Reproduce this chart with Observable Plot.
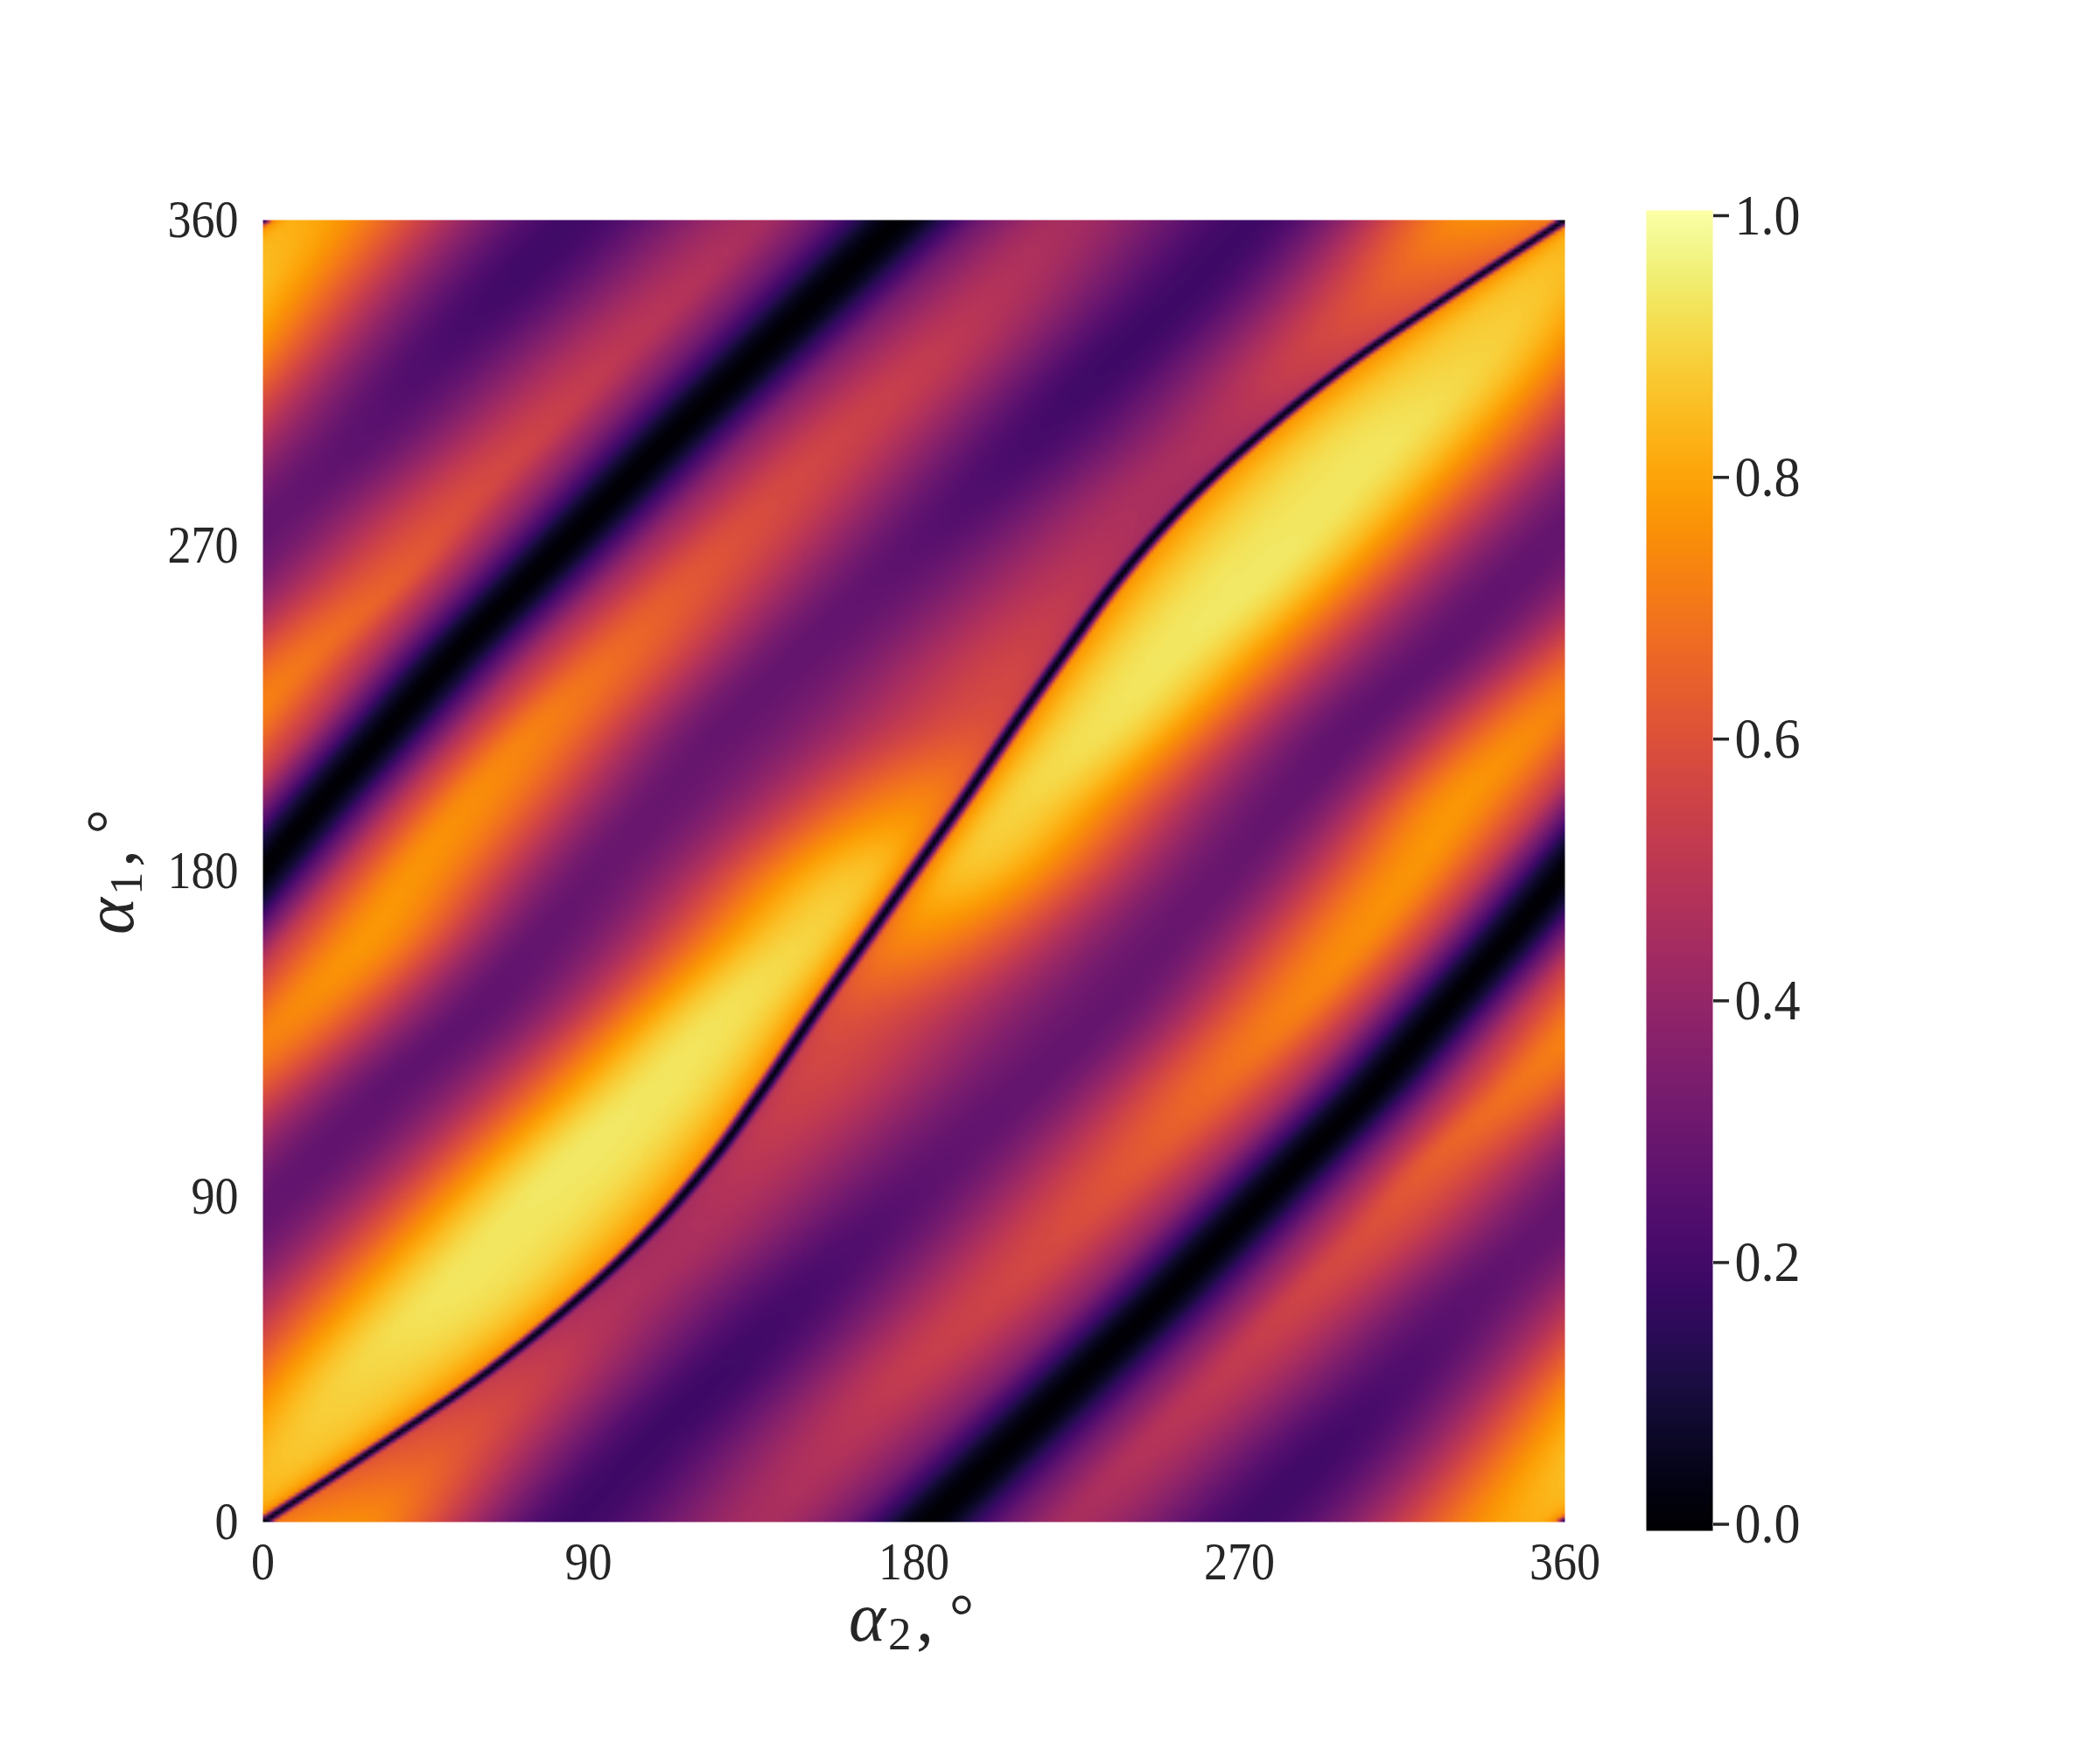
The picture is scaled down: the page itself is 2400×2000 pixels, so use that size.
<!DOCTYPE html>
<html>
<head>
<meta charset="utf-8">
<style>
  html, body { margin: 0; padding: 0; background: #fff; }
  #chart { display: flex; width: 2400px; height: 2000px; }
  svg { display: block; overflow: visible; }
</style>
<script src="https://cdn.jsdelivr.net/npm/d3@7"></script>
<script src="https://cdn.jsdelivr.net/npm/@observablehq/plot@0.6"></script>
</head>
<body>
<div id="chart"></div>
<script>
// Axis ticks
const angleTicks = [0, 90, 180, 270, 360];
const colorbarTicks = [0, 0.2, 0.4, 0.6, 0.8, 1];
const colorDomain = [-0.005, 1.004];

// Rows of the heatmap where the bands were read: alpha_1 in degrees
const rowAlpha1 = [0,20,40,60,80,100,120,140,160,180,200,220,240,260,280,300,320,340,360];

// Where each band crosses a row: alpha_2 in degrees, unwrapped left to right
const lineZero   = [0,30.6,60,85,106.5,124,138.5,152,166,180,194,207.5,221.5,236,253.5,275,300,329.4,360];
const ridgeA     = [26,48,72,95,120,135,150,162,179,195,212,233,252,274,294,313,334,350,368];
const valleyB    = [86,105,126,146,167,189,211,232,249,267,284,302,325,345,366,388,406,426,446];
const ridgeC     = [140,158,178,201,222,243,263,284,302,318,332,352,373,396,414,435,455,476,496];
const bandZero   = [184,205,226,247,267,287,307,325,343,360,377,395,413,433,453,473,494,515,536];
const ridgeD     = [224,244,265,285,306,324,347,368,388,402,418,436,457,477,498,519,542,562,580];
const valleyE    = [274,294,314,332,354,375,395,418,436,453,471,488,509,531,553,574,594,615,634];
const ridgeF     = [352,370,386,407,426,446,468,487,508,525,541,558,570,585,600,625,648,672,694];

// Colorbar value of each band on those rows
const ridgeAValue  = [.75,.63,.54,.47,.46,.50,.55,.60,.73,.86,.90,.925,.935,.94,.935,.93,.90,.87,.82];
const valleyBValue = [.19,.19,.19,.21,.24,.27,.28,.285,.29,.29,.28,.27,.27,.275,.28,.26,.23,.20,.195];
const ridgeCValue  = [.45,.48,.52,.55,.58,.62,.67,.72,.75,.765,.77,.74,.69,.64,.59,.55,.51,.48,.45];
const ridgeDValue  = [.45,.48,.51,.55,.59,.64,.69,.74,.77,.765,.75,.72,.67,.62,.58,.55,.52,.48,.45];
const valleyEValue = [.195,.20,.23,.26,.28,.275,.27,.27,.28,.29,.29,.285,.28,.27,.24,.21,.19,.19,.19];
const ridgeFValue  = [.82,.87,.90,.93,.935,.94,.935,.925,.90,.86,.73,.60,.55,.50,.46,.47,.54,.63,.75];
// Value just beside the thin zero line, on its right and on its left
const lineRightValue = [.70,.60,.52,.45,.44,.47,.51,.57,.67,.74,.76,.76,.77,.77,.77,.77,.76,.75,.75];
const lineLeftValue  = [.75,.75,.76,.77,.77,.77,.77,.76,.76,.74,.67,.57,.51,.47,.44,.45,.52,.60,.70];

// Profile of the zero features: offset from the zero in degrees, fraction of the neighbouring level
const lineOffsets = [1.3, 3.5];
const lineFractions = [0.3, 1];
const bandOffsets = [6, 13, 24];
const bandFractions = [0.1, 0.36, 0.72];

// Read a band at an arbitrary alpha_1 between the rows it was read on
function along(track, y) {
  const u = Math.max(0, Math.min(rowAlpha1.length - 1 - 1e-9, y / 20));
  const i = Math.floor(u), t = u - i;
  const p1 = track[i], p2 = track[i + 1];
  const p0 = i > 0 ? track[i - 1] : 2 * p1 - p2;
  const p3 = i + 2 < track.length ? track[i + 2] : 2 * p2 - p1;
  return 0.5 * (2 * p1 + (p2 - p0) * t + (2 * p0 - 5 * p1 + 4 * p2 - p3) * t * t + (3 * p1 - p0 - 3 * p2 + p3) * t * t * t);
}

const rowCache = new Map();
function rowKnots(y) {
  if (rowCache.has(y)) return rowCache.get(y);
  const L = along(lineZero, y), B = along(bandZero, y);
  const vC = along(ridgeCValue, y), vD = along(ridgeDValue, y);
  const sR = along(lineRightValue, y), sL = along(lineLeftValue, y);
  const P = [L], V = [0];
  lineOffsets.forEach((o, i) => { P.push(L + o); V.push(sR * lineFractions[i]); });
  P.push(along(ridgeA, y)); V.push(along(ridgeAValue, y));
  P.push(along(valleyB, y)); V.push(along(valleyBValue, y));
  P.push(along(ridgeC, y)); V.push(vC);
  for (let i = bandOffsets.length - 1; i >= 0; i--) { P.push(B - bandOffsets[i]); V.push(vC * bandFractions[i]); }
  P.push(B); V.push(0);
  bandOffsets.forEach((o, i) => { P.push(B + o); V.push(vD * bandFractions[i]); });
  P.push(along(ridgeD, y)); V.push(vD);
  P.push(along(valleyE, y)); V.push(along(valleyEValue, y));
  P.push(along(ridgeF, y)); V.push(along(ridgeFValue, y));
  for (let i = lineOffsets.length - 1; i >= 0; i--) { P.push(L + 360 - lineOffsets[i]); V.push(sL * lineFractions[i]); }
  P.push(L + 360); V.push(0);
  // monotone slopes
  const n = P.length, h = [], d = [], M = new Array(n).fill(0);
  for (let i = 0; i < n - 1; i++) { h[i] = P[i + 1] - P[i]; d[i] = (V[i + 1] - V[i]) / h[i]; }
  for (let i = 1; i < n - 1; i++) {
    if (d[i - 1] * d[i] > 0) {
      const w1 = 2 * h[i] + h[i - 1], w2 = h[i] + 2 * h[i - 1];
      M[i] = (w1 + w2) / (w1 / d[i - 1] + w2 / d[i]);
    }
  }
  const r = {L, P, V, M, h};
  rowCache.set(y, r);
  return r;
}
function heat(x, y) {
  const {L, P, V, M, h} = rowKnots(y);
  let q = x;
  while (q < L) q += 360;
  while (q >= L + 360) q -= 360;
  let i = d3.bisectRight(P, q) - 1;
  i = Math.max(0, Math.min(P.length - 2, i));
  const t = (q - P[i]) / h[i], t2 = t * t, t3 = t2 * t;
  const v = (2 * t3 - 3 * t2 + 1) * V[i] + (t3 - 2 * t2 + t) * h[i] * M[i] + (-2 * t3 + 3 * t2) * V[i + 1] + (t3 - t2) * h[i] * M[i + 1];
  return Math.max(0, v);
}

const ink = "#262626";
const serif = "'Liberation Serif', serif";

const main = Plot.plot({
  width: 1870, height: 2000,
  marginLeft: 300, marginRight: 82, marginTop: 251, marginBottom: 261,
  style: {fontFamily: serif, color: ink, background: "transparent"},
  x: {domain: [0, 360]},
  y: {domain: [0, 360]},
  color: {type: "linear", scheme: "inferno", domain: colorDomain},
  marks: [
    Plot.raster({x1: 0, x2: 360, y1: 0, y2: 360, width: 360, height: 360, fill: heat}),
    Plot.axisX(angleTicks, {tickSize: 0, tickPadding: 21, fontSize: 62, label: null, fill: ink}),
    Plot.axisY(angleTicks, {tickSize: 0, tickPadding: 28, fontSize: 62, label: null, fill: ink})
  ]
});

const bar = Plot.plot({
  width: 530, height: 2000,
  marginLeft: 11, marginRight: 443, marginTop: 240, marginBottom: 251,
  style: {fontFamily: serif, color: ink, background: "transparent"},
  x: {domain: [0, 1], axis: null},
  y: {domain: colorDomain},
  color: {type: "linear", scheme: "inferno", domain: colorDomain},
  marks: [
    Plot.raster({x1: 0, x2: 1, y1: colorDomain[0], y2: colorDomain[1], width: 1, height: 256, fill: (x, y) => y}),
    Plot.axisY(colorbarTicks, {anchor: "right", tickSize: 18, tickPadding: 7, strokeWidth: 3.5, stroke: ink, fontSize: 66, label: null, fill: ink, tickFormat: d3.format(".1f")})
  ]
});

// Squeeze the serif digits to the narrower proportions of the reference
function squeeze(svg, perChar) {
  d3.select(svg).selectAll("text").each(function () {
    const s = this.textContent;
    if (!s) return;
    d3.select(this).selectAll("tspan").each(function () {
      d3.select(this).attr("textLength", s.length * perChar).attr("lengthAdjust", "spacingAndGlyphs");
    });
    if (!this.querySelector("tspan")) d3.select(this).attr("textLength", s.length * perChar).attr("lengthAdjust", "spacingAndGlyphs");
  });
}
squeeze(main, 27);
squeeze(bar, 25);

// Axis titles, set as pieces so the subscript and degree sign can sit where they do in the reference
function axisTitle(svg, transform, sub) {
  const g = d3.select(svg).append("g").attr("transform", transform)
    .attr("fill", ink).attr("font-family", serif).attr("text-anchor", "start");
  g.append("text").attr("x", 0).attr("y", 0).attr("font-size", 80).attr("font-style", "italic")
    .attr("textLength", 42).attr("lengthAdjust", "spacingAndGlyphs").text("α");
  g.append("text").attr("x", 45).attr("y", 10).attr("font-size", 53).text(sub);
  g.append("text").attr("x", 77).attr("y", 0).attr("font-size", 80).text(",");
  g.append("text").attr("x", 115).attr("y", -5).attr("font-size", 70).text("°");
}
axisTitle(main, "translate(970,1875)", "2");
axisTitle(main, "translate(152,1068) rotate(-90)", "1");

document.getElementById("chart").append(main, bar);
</script>
</body>
</html>
